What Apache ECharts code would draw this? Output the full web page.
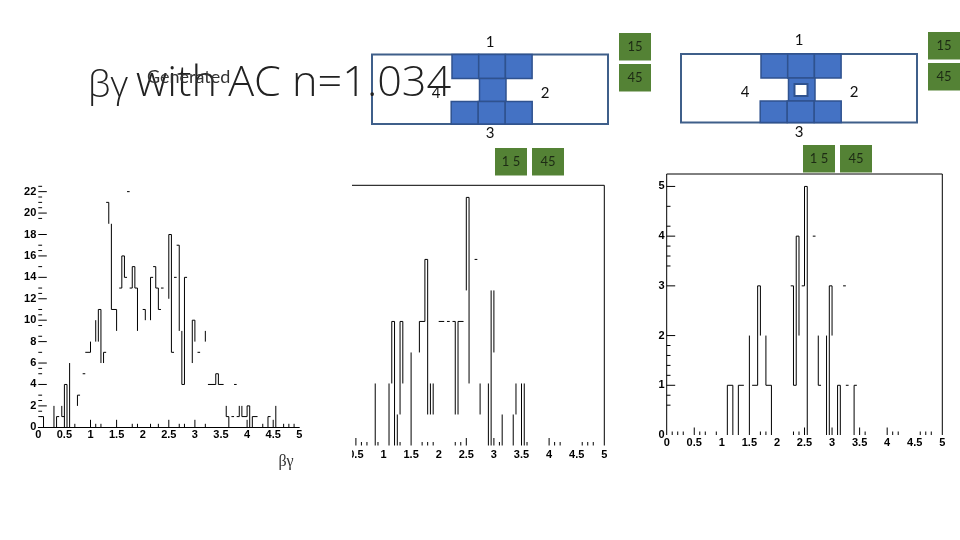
<!DOCTYPE html>
<html><head><meta charset="utf-8">
<style>html,body{margin:0;padding:0;background:#fff}#c{width:960px;height:540px}</style>
<script src="https://cdn.jsdelivr.net/npm/echarts@6/dist/echarts.min.js"></script>
</head><body><div id="c"></div>
<script>
// tick labels
const xTickLabels = ['0','0.5','1','1.5','2','2.5','3','3.5','4','4.5','5'];
// Panel A: vertical strokes [x, y0, y1]; horizontal strokes [x0, x1, y]
const vertA = [[0.1,0,1],[0.3,0,2],[0.35,0,1],[0.45,1,2],[0.5,0,4],[0.55,0,4],[0.6,0,6],[0.75,2,3],[1,7,8],[1.1,8,10],[1.15,8,11],[1.2,6,11],[1.25,6,7],[1.35,19,21],[1.4,11,19],[1.5,9,11],[1.6,13,16],[1.65,14,16],[1.8,13,15],[1.85,13,15],[1.9,9,13],[2.05,10,11],[2.15,10,14],[2.25,13,15],[2.3,11,13],[2.5,12,18],[2.55,7,18],[2.7,9,17],[2.75,4,9],[2.8,4,14],[2.95,6,10],[3,8,10],[3.2,8,9],[3.4,4,5],[3.45,4,5],[3.6,1,2],[3.65,0,1],[3.85,1,2],[3.9,1,2],[4,1,2],[4.05,0,2],[4.1,0,1],[4.4,0,1],[4.55,0,2]];
const horA = [[0.05,0.1,1],[0.35,0.4,1],[0.45,0.5,1],[0.5,0.55,4],[0.75,0.8,3],[0.85,0.9,5],[0.9,1,7],[1.15,1.2,11],[1.25,1.3,7],[1.3,1.35,21],[1.4,1.5,11],[1.55,1.6,13],[1.6,1.65,16],[1.65,1.7,14],[1.7,1.75,22],[1.75,1.8,13],[1.8,1.85,15],[1.85,1.9,13],[2,2.05,11],[2.15,2.2,14],[2.2,2.25,15],[2.25,2.3,13],[2.3,2.35,11],[2.35,2.4,13],[2.5,2.55,18],[2.55,2.6,7],[2.6,2.65,14],[2.65,2.7,17],[2.75,2.8,4],[2.8,2.85,14],[2.95,3,10],[3.05,3.1,7],[3.25,3.4,4],[3.4,3.45,5],[3.45,3.55,4],[3.75,3.8,4],[3.6,3.65,1],[3.7,3.75,1],[3.8,3.85,1],[3.9,4,1],[4,4.05,2],[4.1,4.2,1],[4.4,4.45,1]];
const xMajorA = [1,1.5,2.5,3,4,4.5];
const xMinorA = [0.7,1.1,1.2,1.8,1.9,2.15,2.3,2.7,2.8,3.2,4.3,4.7,4.8,4.9];
const yMajorA = [22,20,18,16,14,12,10,8,6,4,2];
const yMinorA = [22.5,21.5,21,20.5,19.5,17,16.5,15,13,12.5,11,10.5,9.5,8.5,7,5.5,5,3,2.5,1.5,1];
// Panel B
const vertB = [[0.85,0,2],[1.1,0,2],[1.15,2,4],[1.2,0,4],[1.25,0,1],[1.3,1,4],[1.35,2,4],[1.5,0,3],[1.65,3,4],[1.75,4,6],[1.8,1,6],[1.85,1,2],[1.9,1,2],[2.3,1,4],[2.35,1,4],[2.5,5,8],[2.55,2,8],[2.75,1,2],[2.9,0,2],[2.95,0,5],[3,3,5],[3.15,0,1],[3.35,0,1],[3.4,1,2],[3.5,0,2],[3.55,0,2]];
const horB = [[1.15,1.2,4],[1.3,1.35,4],[1.65,1.75,4],[1.75,1.8,6],[2,2.1,4],[2.15,2.2,4],[2.25,2.3,4],[2.35,2.45,4],[2.5,2.55,8],[2.65,2.7,6]];
const xMajorB = [0.5,2.5,3,4];
const xMinorB = [0.6,0.7,0.9,1.3,1.7,1.8,1.9,2.3,2.4,3.1,3.6,4.1,4.2,4.6,4.7,4.8];
// Panel C
const vertC = [[1.1,0,1],[1.2,0,1],[1.3,0,1],[1.5,0,2],[1.65,1,3],[1.7,2,3],[1.8,1,2],[1.9,0,1],[2.3,1,3],[2.35,1,4],[2.4,2,4],[2.5,3,5],[2.55,0,5],[2.75,1,2],[2.9,0,2],[2.95,0,3],[3,2,3],[3.1,0,1],[3.15,0,1],[3.4,0,1]];
const horC = [[1.1,1.2,1],[1.3,1.4,1],[1.55,1.65,1],[1.65,1.7,3],[1.8,1.9,1],[2.25,2.3,3],[2.3,2.35,1],[2.35,2.4,4],[2.45,2.5,3],[2.5,2.55,5],[2.65,2.7,4],[2.75,2.8,1],[2.95,3,3],[3.1,3.15,1],[3.2,3.25,3],[3.25,3.3,1],[3.4,3.45,1]];
const xMajorC = [0.5,2.5,3,3.5,4];
const xMinorC = [0.1,0.2,0.3,0.6,0.7,0.9,1.7,1.8,2.3,2.4,3.6,4.1,4.2,4.6,4.7,4.8];
const yMajorC = [5,4,3,2,1];
const yMinorC = [4.6,4.2,3.8,3.6,3.4,1.8,1.6,1.4,1.2,0.8,0.6];
// Diagram labels
const faceLabels = ['1','2','3','4'];
const angleLabels = ['15','45'];

const panels = [
 {l:38.3,w:261,t:186.3,b:427.3,ymax:22.5,yInt:2,showY:true,vert:vertA,hor:horA,xMaj:xMajorA,xMin:xMinorA,yMaj:yMajorA,yMin:yMinorA,axisLine:true,frame:null},
 {l:328.3,w:276,t:185.3,b:445.5,ymax:8.39,yInt:1,showY:false,vert:vertB,hor:horB,xMaj:xMajorB,xMin:xMinorB,yMaj:[],yMin:[],axisLine:false,frame:'tr'},
 {l:666.7,w:275.6,t:174,b:435,ymax:5.25,yInt:1,showY:true,vert:vertC,hor:horC,xMaj:xMajorC,xMin:xMinorC,yMaj:yMajorC,yMin:yMinorC,axisLine:false,frame:'ltr'}
];
const grid=[],xAxis=[],yAxis=[],series=[];
const FONT='"Liberation Sans"';
panels.forEach((p,i)=>{
  grid.push({left:p.l,top:p.t,width:p.w,height:p.b-p.t,containLabel:false,show:false});
  xAxis.push({type:'value',gridIndex:i,min:0,max:5,interval:0.5,splitLine:{show:false},axisTick:{show:false},
    axisLine:{show:p.axisLine,onZero:false,lineStyle:{color:'#000',width:1}},
    axisLabel:{show:true,margin:i===1?4:2,color:'#000',fontFamily:FONT,fontWeight:'bold',fontSize:11,hideOverlap:false,
      formatter:v=>xTickLabels[Math.round(v/0.5)]}});
  yAxis.push({type:'value',gridIndex:i,min:0,max:p.ymax,interval:p.yInt,splitLine:{show:false},axisTick:{show:false},axisLine:{show:false},
    axisLabel:{show:p.showY,showMaxLabel:false,margin:2,color:'#000',fontFamily:FONT,fontWeight:'bold',fontSize:11}});
  const xPx=p.w/5, yPx=(p.b-p.t)/p.ymax;
  const d=[]; const gap=()=>d.push(['-','-']);
  p.vert.forEach(s=>{d.push([s[0],s[1]],[s[0],s[2]]);gap();});
  p.hor.forEach(s=>{d.push([s[0],s[2]],[s[1],s[2]]);gap();});
  p.xMaj.forEach(x=>{d.push([x,0],[x,7.5/yPx]);gap();});
  p.xMin.forEach(x=>{d.push([x,0],[x,3.5/yPx]);gap();});
  p.yMaj.forEach(y=>{d.push([0,y],[8.5/xPx,y]);gap();});
  p.yMin.forEach(y=>{d.push([0,y],[3.8/xPx,y]);gap();});
  if(p.frame){
    if(p.frame.includes('l')){d.push([0,0],[0,p.ymax]);} else {d.push([0,p.ymax]);}
    d.push([5,p.ymax],[5,0]);gap();
  }
  series.push({type:'line',xAxisIndex:i,yAxisIndex:i,data:d,showSymbol:false,symbol:'none',connectNulls:false,clip:false,silent:true,animation:false,
    lineStyle:{color:'#000',width:1,cap:'butt',join:'miter'}});
});

// diagram drawing
const BLUE='#4472C4',EDGE='#2F528F',FRAME='#3F5F8A',GREEN='#548235';
const g=[];
function rect(x,y,w,h,fill,stroke,lw,z){g.push({type:'rect',shape:{x,y,width:w,height:h},style:{fill,stroke,lineWidth:lw},z:z||5});}
function txt(x,y,t,size,color,family,extra){g.push({type:'text',x,y,z:20,style:Object.assign({text:t,fontSize:size,fill:color,fontFamily:family,align:'center',verticalAlign:'middle'},extra||{})});}
function diagram(x0,y0,hole,w,h){
  rect(x0,y0,w,h,'#fff',FRAME,2);
  const cx=x0+80;
  [0,1,2].forEach(k=>rect(cx+k*26.7,y0,26.7,24,BLUE,EDGE,1.5));
  rect(cx+27.5,y0+24,26.5,23,BLUE,EDGE,1.5);
  [0,1,2].forEach(k=>rect(cx-0.8+k*27,y0+47,27,h-47,BLUE,EDGE,1.5));
  if(hole) rect(cx+33.5,y0+30,13,12,'#fff',EDGE,2);
}
function green(x,y,t){rect(x,y,32,27.5,GREEN,null,0);txt(x+16,y+14,t,13,'#1d2b14','Lato',{});}
diagram(372,54.5,false,236,69.5);
diagram(681,54,true,236,68.5);
const L='Lato';
[[490,42],[545,93],[490,133],[436,93]].forEach((q,k)=>txt(q[0],q[1],faceLabels[k],15,'#111',L));
[[799,40],[854,92],[799,132],[745,92]].forEach((q,k)=>txt(q[0],q[1],faceLabels[k],15,'#111',L));
green(619,33,angleLabels[0]);green(619,64,angleLabels[1]);
green(495,148,'1 5');green(532,148,angleLabels[1]);
green(928,32,angleLabels[0]);green(928,63,angleLabels[1]);
green(803,145,'1 5');green(840,145,angleLabels[1]);
// cover hiding left part of the middle panel
rect(318,178,34,290,'#fff',null,0,30);
const option={animation:false,backgroundColor:'#fff',grid,xAxis,yAxis,series,
 graphic:{elements:g.concat([
  {type:'text',x:88,y:86,z:25,style:{text:'βγ',fontSize:37,fontFamily:'"Open Sans"',fontWeight:300,fill:'#222',align:'left',verticalAlign:'middle'}},
  {type:'text',x:136,y:84,z:25,style:{text:'with AC n=1.034',fontSize:43.2,fontFamily:'"Open Sans"',fontWeight:300,fill:'#222',align:'left',verticalAlign:'middle'}},
  {type:'text',x:147,y:77,z:26,style:{text:'Generated',fontSize:18,fontFamily:'Lato',fill:'#333',align:'left',verticalAlign:'middle'}},
  {type:'text',x:286,y:462,z:26,style:{text:'βγ',fontSize:16,fontFamily:'"Liberation Serif"',fill:'#333',align:'center',verticalAlign:'middle'}}
 ])}};
echarts.init(document.getElementById('c'),null,{renderer:'canvas'}).setOption(option);
</script></body></html>
